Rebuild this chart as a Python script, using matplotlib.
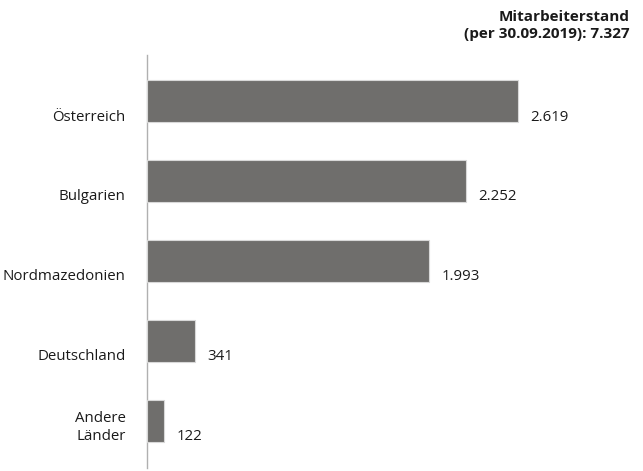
import matplotlib.pyplot as plt

# Mitarbeiter nach Ländern
categories = ['Österreich', 'Bulgarien', 'Nordmazedonien', 'Deutschland', 'Andere\nLänder']
values = [2619, 2252, 1993, 341, 122]
value_labels = ['2.619', '2.252', '1.993', '341', '122']
title = 'Mitarbeiterstand\n(per 30.09.2019): 7.327'

plt.rcParams['font.family'] = ['Open Sans', 'DejaVu Sans']

fig = plt.figure(figsize=(6.43, 4.71), dpi=100)
# axes: left edge at the vertical line, spanning to the right margin
ax = fig.add_axes([147 / 643, 3 / 471, 480 / 643, 413 / 471])

bar_h = 0.525
pos = list(range(len(categories)))
ax.barh(pos, values, height=bar_h, color='#6f6e6c', edgecolor='#d8d8d8',
        linewidth=0.8, zorder=3)

ax.set_xlim(0, 480 / 0.1415)
ax.set_ylim(4 + 47.5 / 80, -46 / 80)

for p, v, lab, cat in zip(pos, values, value_labels, categories):
    ax.annotate(lab, (v, p + bar_h / 2), xytext=(9.0, 1), textcoords='offset points',
                ha='left', va='baseline', fontsize=10.8, color='#1a1a1a')
    ax.annotate(cat, (0, p + bar_h / 2), xytext=(-15.5, 1), textcoords='offset points',
                ha='right', va='baseline', fontsize=10.8, color='#1a1a1a',
                multialignment='right', linespacing=1.3)

for s in ['top', 'right', 'bottom']:
    ax.spines[s].set_visible(False)
ax.spines['left'].set_color('#b0b0b0')
ax.spines['left'].set_linewidth(1)
ax.set_xticks([])
ax.set_yticks([])

fig.text(630 / 643, 1 - 10 / 471, title, ha='right', va='top', fontsize=11,
         fontweight='bold', color='#1a1a1a', multialignment='right', linespacing=1.3)

fig.savefig('out.png', dpi=100)
